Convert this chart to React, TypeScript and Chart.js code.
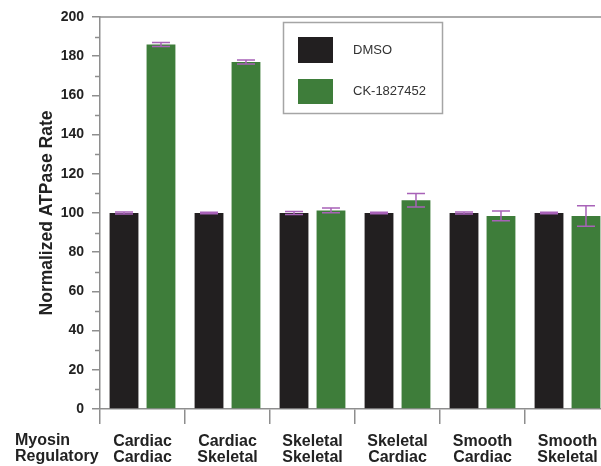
import React, { useEffect, useRef } from "react";
import { Chart, registerables } from "chart.js";

Chart.register(...registerables);

// ---- data ----
const myosinTypes = ["Cardiac", "Cardiac", "Skeletal", "Skeletal", "Smooth", "Smooth"];
const regulatoryTypes = ["Cardiac", "Skeletal", "Skeletal", "Cardiac", "Cardiac", "Skeletal"];
const dmsoValues = [100, 100, 100, 100, 100, 100];
const dmsoErrors = [0.5, 0.4, 0.8, 0.4, 0.5, 0.4];
const ckValues = [186, 177, 101.3, 106.5, 98.5, 98.5];
const ckErrors = [1, 1, 1.2, 3.5, 2.5, 5.2];
const seriesLabels = ["DMSO", "CK-1827452"];
const rowLabels = ["Myosin", "Regulatory"];
const yAxisTitle = "Normalized ATPase Rate";
const yMin = 0;
const yMax = 200;
const yMajorStep = 20;
const yMinorStep = 10;

const BLACK = "#221f20";
const GREEN = "#3e7d3a";
const PURPLE = "#a862b8";
const AXIS = "#8e8e8e";
const TEXT = "#222222";
const FONT = "'Liberation Sans', Arial, Helvetica, sans-serif";

const errorsByDataset = [dmsoErrors, ckErrors];

const extrasPlugin = {
  id: "extras",
  afterDraw(chart: any) {
    const { ctx, chartArea } = chart;
    const yScale = chart.scales.y;
    ctx.save();
    // top frame line
    ctx.strokeStyle = AXIS;
    ctx.lineWidth = 1.5;
    ctx.beginPath();
    ctx.moveTo(chartArea.left, chartArea.top);
    ctx.lineTo(chartArea.right, chartArea.top);
    ctx.stroke();
    // minor ticks
    for (let v = yMin; v <= yMax; v += yMinorStep) {
      if (v % yMajorStep === 0) continue;
      const y = Math.round(yScale.getPixelForValue(v)) + 0.5;
      ctx.beginPath();
      ctx.moveTo(chartArea.left - 5, y);
      ctx.lineTo(chartArea.left, y);
      ctx.stroke();
    }
    // error bars
    ctx.strokeStyle = PURPLE;
    ctx.lineWidth = 1.5;
    chart.data.datasets.forEach((ds: any, i: number) => {
      const meta = chart.getDatasetMeta(i);
      const errs = errorsByDataset[i];
      meta.data.forEach((el: any, j: number) => {
        const v = ds.data[j];
        const e = errs[j];
        const x = el.x;
        const yT = yScale.getPixelForValue(v + e);
        const yB = yScale.getPixelForValue(v - e);
        const cap = 9;
        ctx.beginPath();
        ctx.moveTo(x, yT);
        ctx.lineTo(x, yB);
        ctx.moveTo(x - cap, yT);
        ctx.lineTo(x + cap, yT);
        ctx.moveTo(x - cap, yB);
        ctx.lineTo(x + cap, yB);
        ctx.stroke();
      });
    });
    // legend
    ctx.strokeStyle = "#a5a5a5";
    ctx.lineWidth = 1.5;
    ctx.strokeRect(283.5, 22.5, 159, 91);
    const rows = [
      { y: 37, h: 26 },
      { y: 79, h: 25 },
    ];
    ctx.font = `13px ${FONT}`;
    ctx.textBaseline = "middle";
    ctx.textAlign = "left";
    chart.data.datasets.forEach((ds: any, i: number) => {
      const r = rows[i];
      ctx.fillStyle = ds.backgroundColor;
      ctx.fillRect(298, r.y, 35, r.h);
      ctx.fillStyle = "#333";
      ctx.fillText(ds.label, 353, r.y + r.h / 2);
    });
    // row labels on the left
    ctx.font = `bold 16px ${FONT}`;
    ctx.fillStyle = TEXT;
    ctx.fillText(rowLabels[0], 15, 441);
    ctx.fillText(rowLabels[1], 15, 457);
    ctx.restore();
  },
};

export default function App() {
  const ref = useRef<HTMLCanvasElement | null>(null);
  useEffect(() => {
    if (!ref.current) return;
    const labels = myosinTypes.map((m, i) => [m, regulatoryTypes[i]]);
    const chart = new Chart(ref.current, {
      type: "bar",
      data: {
        labels,
        datasets: [
          { label: seriesLabels[0], data: dmsoValues, backgroundColor: BLACK, borderWidth: 0 },
          { label: seriesLabels[1], data: ckValues, backgroundColor: GREEN, borderWidth: 0 },
        ],
      },
      options: {
        responsive: false,
        animation: false,
        devicePixelRatio: 1,
        layout: { padding: { top: 17, left: 0, right: 2, bottom: 0 } },
        plugins: { legend: { display: false }, tooltip: { enabled: false } },
        datasets: { bar: { categoryPercentage: 0.87, barPercentage: 0.78 } },
        scales: {
          x: {
            grid: { offset: true, drawOnChartArea: false, tickLength: 15, color: AXIS, lineWidth: 1.5 },
            border: { display: true, color: AXIS, width: 1.5 },
            ticks: {
              color: TEXT,
              padding: 10,
              maxRotation: 0,
              autoSkip: false,
              font: { family: FONT, size: 16, weight: "bold", lineHeight: 1.0 },
            },
            afterFit: (s: any) => {
              s.height = 57;
            },
          },
          y: {
            min: yMin,
            max: yMax,
            ticks: {
              stepSize: yMajorStep,
              color: TEXT,
              padding: 8,
              font: { family: FONT, size: 14, weight: "bold" },
            },
            grid: { drawOnChartArea: false, tickLength: 8, color: AXIS, lineWidth: 1.5 },
            border: { display: true, color: AXIS, width: 1.5 },
            title: {
              display: true,
              text: yAxisTitle,
              color: TEXT,
              padding: { top: 37, bottom: 0 },
              font: { family: FONT, size: 17.5, weight: "bold", lineHeight: 1.2 },
            },
            afterFit: (s: any) => {
              s.width = 100;
            },
          },
        },
      },
      plugins: [extrasPlugin],
    });
    return () => chart.destroy();
  }, []);
  return (
    <div
      style={{
        position: "fixed",
        left: 0,
        top: 0,
        width: 601,
        height: 466,
        overflow: "hidden",
        background: "#fff",
      }}
    >
      <canvas ref={ref} width={612} height={466} style={{ display: "block", width: 612, height: 466 }} />
    </div>
  );
}
